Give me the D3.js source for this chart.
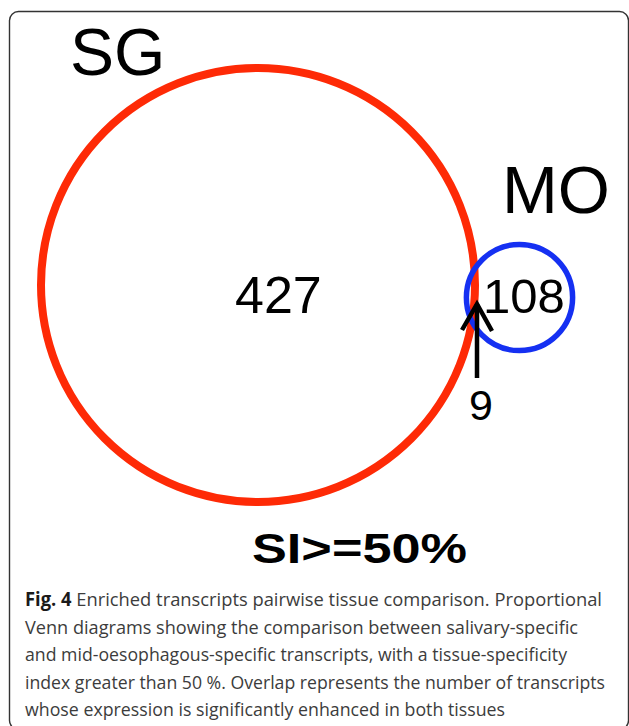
<!DOCTYPE html>
<html><head><meta charset="utf-8">
<script src="https://cdn.jsdelivr.net/npm/d3@7"></script>
<style>body{margin:0;background:#fff}svg{display:block}</style>
</head><body>
<script>
// data
const setNames = ["SG", "MO"];
const uniqueCounts = [427, 108];
const overlapCount = 9;
const thresholdLabel = "SI>=50%";
const captionBold = "Fig. 4";
const captionLines = [
  " Enriched transcripts pairwise tissue comparison. Proportional",
  "Venn diagrams showing the comparison between salivary-specific",
  "and mid-oesophagous-specific transcripts, with a tissue-specificity",
  "index greater than 50 %. Overlap represents the number of transcripts",
  "whose expression is significantly enhanced in both tissues"
];

const W = 629, H = 726;
const svg = d3.select("body").append("svg").attr("width", W).attr("height", H);

// frame
svg.append("rect").attr("x", 9.5).attr("y", 11.5).attr("width", 619).attr("height", 718)
  .attr("rx", 9).attr("fill", "none").attr("stroke", "#333").attr("stroke-width", 1.4);

const totals = [uniqueCounts[0] + overlapCount, uniqueCounts[1] + overlapCount];
const r = d3.scalePow().exponent(1.07).domain([0, totals[0]]).range([0, 217]);
const centers = [[258, 285], [519.5, 297.5]];
const colors = ["#fe2a06", "#1530f2"];
const widths = [8, 5.5];

svg.selectAll("circle.set").data(totals).join("circle").attr("class", "set")
  .attr("cx", (d, i) => centers[i][0]).attr("cy", (d, i) => centers[i][1])
  .attr("r", d => r(d)).attr("fill", "none")
  .attr("stroke", (d, i) => colors[i]).attr("stroke-width", (d, i) => widths[i]);

const font = "'Liberation Sans', Arial, sans-serif";
// set names
const nameLayout = [{x: 70, y: 75, s: 66}, {x: 502, y: 213, s: 67}];
svg.selectAll("text.name").data(setNames).join("text").attr("class", "name")
  .attr("x", (d, i) => nameLayout[i].x).attr("y", (d, i) => nameLayout[i].y)
  .attr("font-family", font).attr("font-size", (d, i) => nameLayout[i].s)
  .attr("fill", "#000").text(d => d);

// counts
const countLayout = [{x: 235, y: 313, s: 52}, {x: 483, y: 313, s: 49}];
svg.selectAll("text.count").data(uniqueCounts).join("text").attr("class", "count")
  .attr("x", (d, i) => countLayout[i].x).attr("y", (d, i) => countLayout[i].y)
  .attr("font-family", font).attr("font-size", (d, i) => countLayout[i].s)
  .attr("fill", "#000").text(d => d);

// overlap arrow + label
svg.append("line").attr("x1", 477).attr("y1", 378).attr("x2", 477).attr("y2", 304)
  .attr("stroke", "#000").attr("stroke-width", 4.5);
svg.append("path").attr("d", "M462,330 L477,304 L492,331")
  .attr("fill", "none").attr("stroke", "#000").attr("stroke-width", 4.5)
  .attr("stroke-linejoin", "miter");
svg.append("text").attr("x", 469).attr("y", 420).attr("font-family", font)
  .attr("font-size", 43).attr("fill", "#000").text(overlapCount);

// threshold label
svg.append("text").attr("x", 252).attr("y", 563).attr("font-family", font)
  .attr("font-weight", "bold").attr("font-size", 42).attr("fill", "#000")
  .attr("textLength", 215).attr("lengthAdjust", "spacingAndGlyphs").text(thresholdLabel);

// caption
const capFont = "'Open Sans', 'Noto Sans', sans-serif";
const targets = [577, 553, 542, 580, 480];
const baseY = 606, lh = 27.6;
captionLines.forEach((line, i) => {
  const t = svg.append("text").attr("x", 25).attr("y", baseY + i * lh)
    .attr("font-family", capFont).attr("font-size", 19).attr("fill", "#3c3c3c");
  if (i === 0) {
    t.append("tspan").attr("font-weight", "bold").attr("fill", "#1a1a1a").text(captionBold);
  }
  t.append("tspan").text(line);
  const len = t.node().getComputedTextLength();
  if (Math.abs(len - targets[i]) > 2) {
    t.attr("textLength", targets[i]).attr("lengthAdjust", "spacingAndGlyphs");
  }
});
</script>
</body></html>
